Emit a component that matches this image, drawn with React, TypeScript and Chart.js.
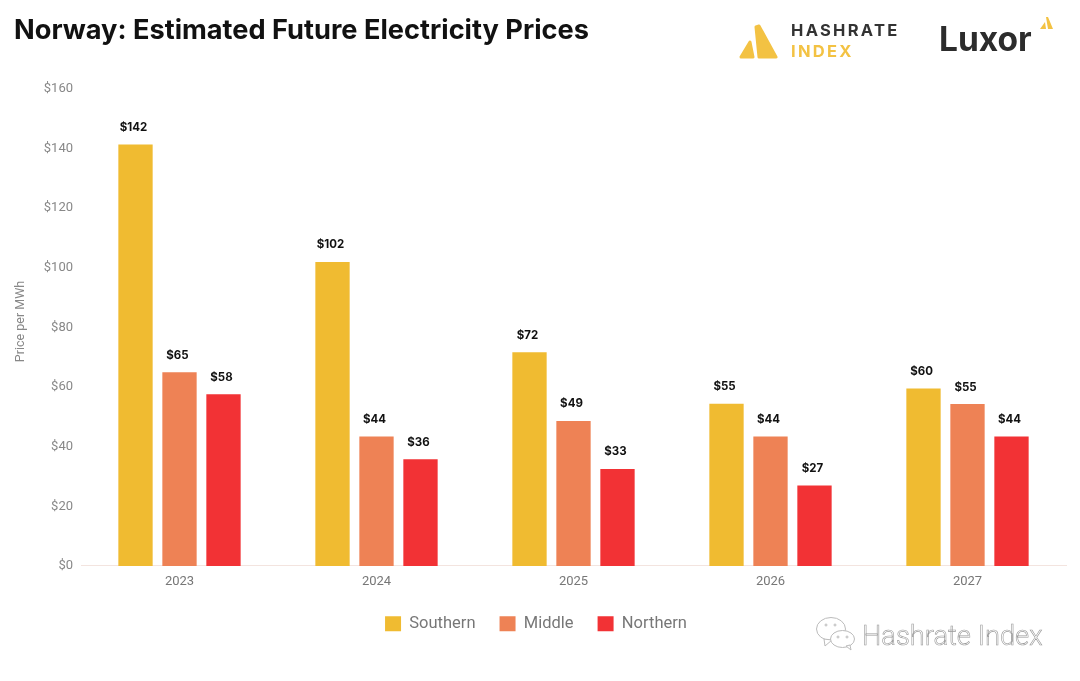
import React, { useEffect, useRef } from "react";
import { Chart, registerables } from "chart.js";

Chart.register(...registerables);

const years = ["2023", "2024", "2025", "2026", "2027"];
const southern = [141.4, 102, 71.7, 54.4, 59.5];
const middle = [65, 43.4, 48.6, 43.4, 54.3];
const northern = [57.6, 35.8, 32.5, 27, 43.4];
const southernLabels = ["$142", "$102", "$72", "$55", "$60"];
const middleLabels = ["$65", "$44", "$49", "$44", "$55"];
const northernLabels = ["$58", "$36", "$33", "$27", "$44"];
const title = "Norway: Estimated Future Electricity Prices";
const yAxisTitle = "Price per MWh";

const valueLabels = {
  id: "valueLabels",
  afterDatasetsDraw(chart: any) {
    const sets = [southernLabels, middleLabels, northernLabels];
    const { ctx } = chart;
    ctx.save();
    ctx.font = "700 11.5px Inter";
    ctx.fillStyle = "#111";
    ctx.textAlign = "center";
    ctx.textBaseline = "middle";
    sets.forEach((labels, i) => {
      chart.getDatasetMeta(i).data.forEach((bar: any, j: number) => {
        ctx.fillText(labels[j], bar.x - 2, bar.y - 17);
      });
    });
    // y-axis title sits slightly above the middle of the axis
    ctx.translate(21, chart.scales.y.getPixelForValue(82));
    ctx.rotate(-Math.PI / 2);
    ctx.font = "12.5px Roboto";
    ctx.fillStyle = "#888";
    ctx.fillText(yAxisTitle, 0, 0);
    ctx.restore();
  },
};

export default function App() {
  const ref = useRef<HTMLCanvasElement>(null);
  useEffect(() => {
    document.body.style.margin = "0";
    document.body.style.background = "#fff";
    const chart = new Chart(ref.current!, {
      type: "bar",
      data: {
        labels: years,
        datasets: [
          { label: "Southern", data: southern, backgroundColor: "#F0BB31" },
          { label: "Middle", data: middle, backgroundColor: "#EE8255" },
          { label: "Northern", data: northern, backgroundColor: "#F23235" },
        ],
      },
      options: {
        responsive: false,
        animation: false,
        layout: { padding: { top: 89, left: 6, right: 14, bottom: 39 } },
        datasets: { bar: { barPercentage: 0.78, categoryPercentage: 0.67 } },
        plugins: {
          tooltip: { enabled: false },
          title: { display: false },
          legend: {
            position: "bottom",
            labels: {
              boxWidth: 16,
              boxHeight: 15,
              padding: 24,
              color: "#777",
              font: { family: "Roboto", size: 16.5 },
            },
          },
        },
        scales: {
          x: {
            afterFit(s: any) {
              s.height -= 6;
            },
            grid: { display: false, drawTicks: false },
            border: { color: "#F3E4DF" },
            ticks: { color: "#777", font: { family: "Roboto", size: 13 }, padding: 8 },
          },
          y: {
            min: 0,
            max: 160,
            afterFit(s: any) {
              s.width = 75;
            },
            grid: { display: false, drawTicks: false },
            border: { display: false },
            ticks: {
              stepSize: 20,
              color: "#888",
              padding: 8,
              font: { family: "Roboto", size: 13 },
              callback: (v: any) => "$" + v,
            },
          },
        },
      },
      plugins: [valueLabels],
    } as any);
    return () => chart.destroy();
  }, []);

  return (
    <div style={{ position: "relative", width: 1080, height: 681, overflow: "hidden", background: "#fff" }}>
      <canvas ref={ref} width={1080} height={681} style={{ position: "absolute", left: 0, top: 0 }} />
      <svg width={1080} height={681} style={{ position: "absolute", left: 0, top: 0 }}>
        <text x={14} y={39} fontFamily="Inter" fontWeight={700} fontSize={27.2} fill="#111">{title}</text>
        <g fill="#F3C243" stroke="#F3C243" strokeLinejoin="round" strokeWidth={3}>
          <path d="M741 57 L750 42 L753 57 Z" />
          <path d="M756 27 L759 26 L776 57 L759 57 Z" />
        </g>
        <g fill="#F3C243">
          <path d="M1040 29 L1045 22 L1046 29 Z M1046 17 L1048 17 L1053 29 L1048 29 Z" />
        </g>
        <text x={791} y={36} fontFamily="Inter" fontWeight={700} fontSize={16.5} letterSpacing={2.3} fill="#333">HASHRATE</text>
        <text x={791} y={57} fontFamily="Inter" fontWeight={700} fontSize={16.5} letterSpacing={2.3} fill="#F3C243">INDEX</text>
        <text x={939} y={51} fontFamily="Inter" fontWeight={700} fontSize={33.5} fill="#2c2c2c">Luxor</text>
        <g fill="#fff" stroke="#bbb" strokeWidth={1}>
          <ellipse cx={831} cy={629} rx={14.5} ry={11.5} />
          <path d="M824 639 L825 646 L832 640 Z" />
          <ellipse cx={842.5} cy={639} rx={12} ry={8.5} />
          <path d="M846 646 L851 650 L850 645 Z" />
          <circle cx={826} cy={625} r={1} />
          <circle cx={835} cy={625} r={1} />
          <circle cx={838} cy={637} r={1} />
          <circle cx={847} cy={637} r={1} />
        </g>
        <text x={862} y={645} fontFamily="Roboto" fontWeight={300} fontSize={27.3} fill="#fff" stroke="#999" strokeWidth={0.6}>Hashrate Index</text>
      </svg>
    </div>
  );
}
